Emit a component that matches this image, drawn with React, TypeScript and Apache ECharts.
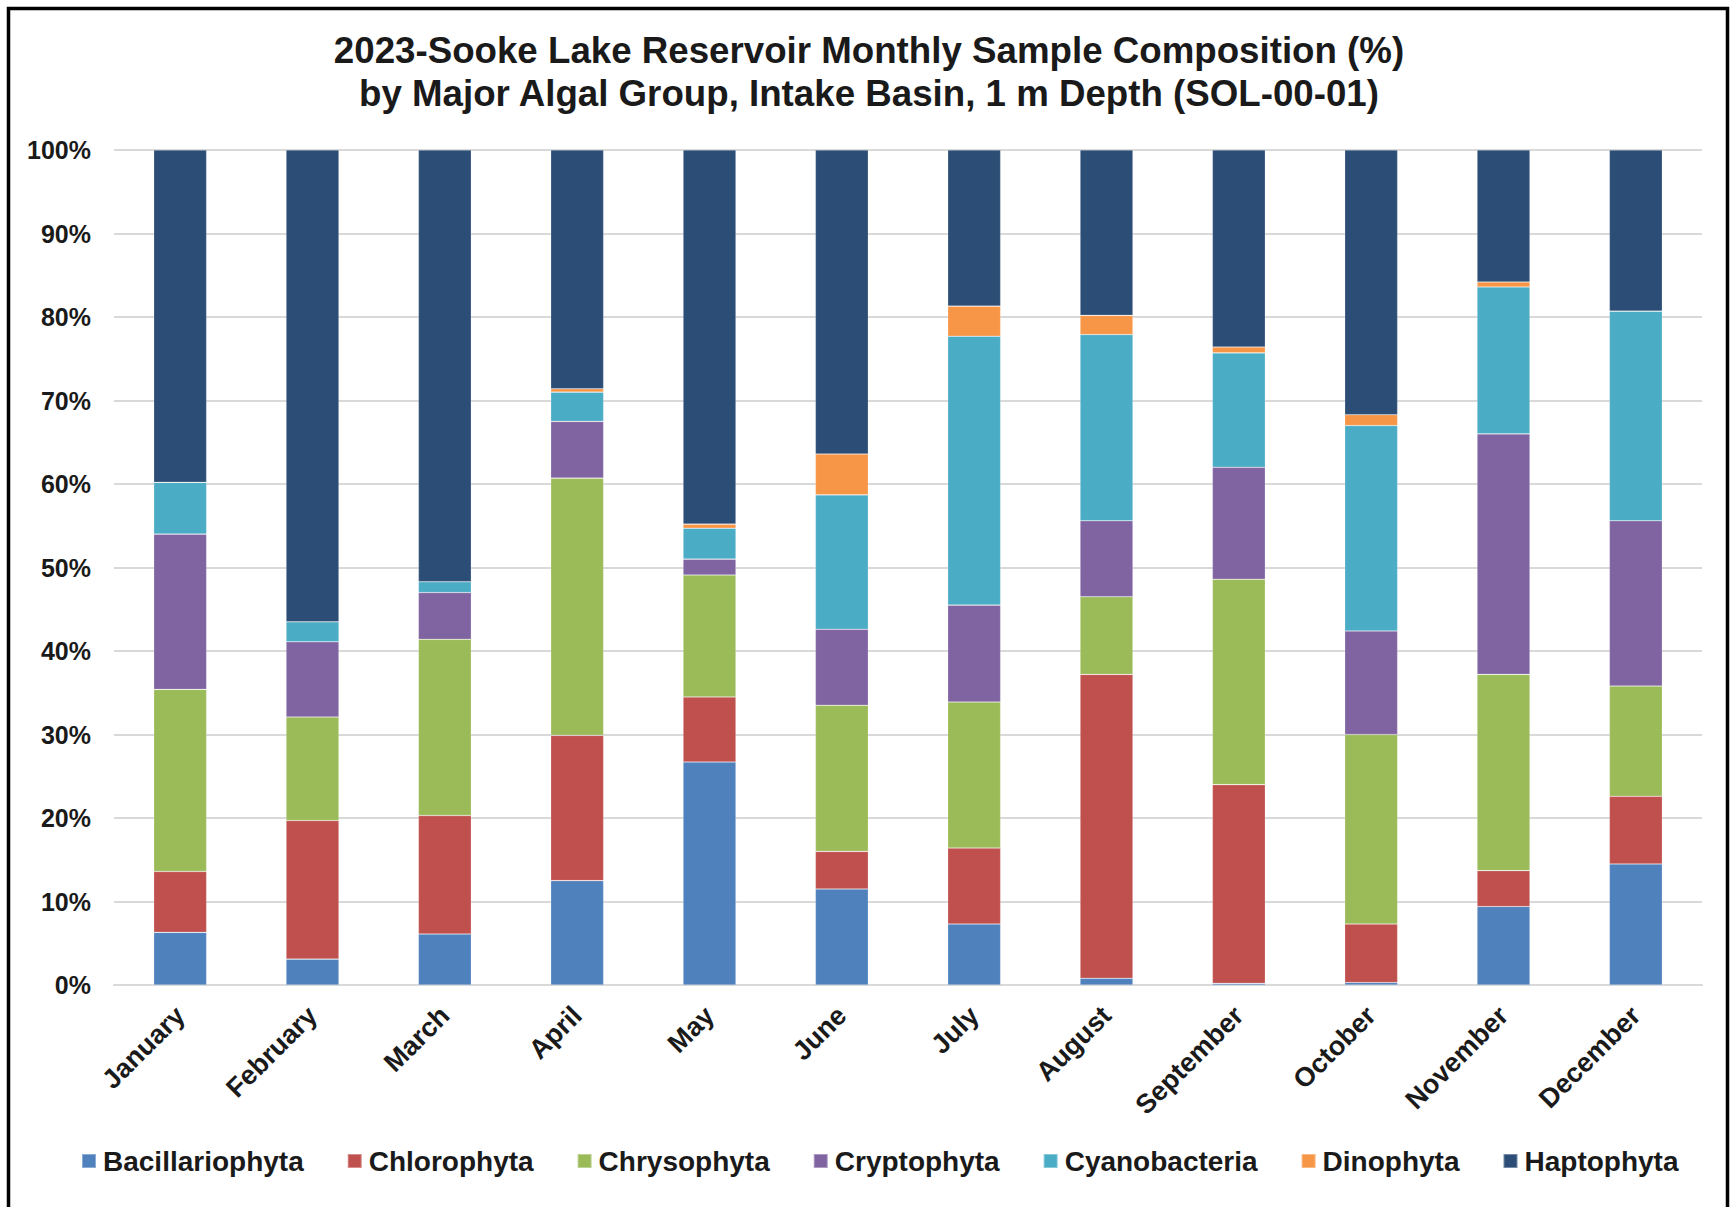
import React, { useEffect, useRef } from "react";
import * as echarts from "echarts";

const months = ["January", "February", "March", "April", "May", "June", "July", "August", "September", "October", "November", "December"];
const groups = ["Bacillariophyta", "Chlorophyta", "Chrysophyta", "Cryptophyta", "Cyanobacteria", "Dinophyta", "Haptophyta"];
const colors = ["#4F81BD", "#C0504D", "#9BBB59", "#8064A2", "#4BACC6", "#F79646", "#2C4D75"];
const titleLines = [
  "2023-Sooke Lake Reservoir Monthly Sample Composition (%)",
  "by Major Algal Group, Intake Basin, 1 m Depth (SOL-00-01)",
];

const bacillariophyta = [6.3, 3.1, 6.1, 12.5, 26.7, 11.5, 7.3, 0.8, 0.2, 0.3, 9.4, 14.5];
const chlorophyta = [7.3, 16.6, 14.2, 17.4, 7.8, 4.5, 9.1, 36.4, 23.8, 7.0, 4.3, 8.1];
const chrysophyta = [21.8, 12.4, 21.1, 30.8, 14.6, 17.5, 17.5, 9.3, 24.6, 22.7, 23.5, 13.2];
const cryptophyta = [18.6, 9.0, 5.6, 6.8, 1.9, 9.1, 11.6, 9.1, 13.4, 12.4, 28.8, 19.8];
const cyanobacteria = [6.2, 2.4, 1.3, 3.5, 3.7, 16.1, 32.2, 22.3, 13.7, 24.6, 17.6, 25.1];
const dinophyta = [0, 0, 0, 0.4, 0.5, 4.9, 3.6, 2.3, 0.7, 1.3, 0.6, 0];
const haptophyta = [39.8, 56.5, 51.7, 28.6, 44.8, 36.4, 18.7, 19.8, 23.6, 31.7, 15.8, 19.3];

const seriesValues = [bacillariophyta, chlorophyta, chrysophyta, cryptophyta, cyanobacteria, dinophyta, haptophyta];

const FONT = "'Liberation Sans', Arial, sans-serif";

export default function App() {
  const ref = useRef<HTMLDivElement>(null);
  useEffect(() => {
    if (!ref.current) return;
    const chart = echarts.init(ref.current, null, { renderer: "svg" });
    chart.setOption({
      animation: false,
      backgroundColor: "#ffffff",
      legend: {
        data: groups,
        left: 76,
        top: 1142,
        itemWidth: 14,
        itemHeight: 14,
        itemGap: 43,
        icon: "rect",
        textStyle: { fontFamily: FONT, fontSize: 28, fontWeight: "bold", color: "#1a1a1a", padding: [0, 0, 0, 2] },
      },
      grid: { left: 114, right: 28, top: 150, bottom: 222, containLabel: false },
      xAxis: {
        type: "category",
        data: months,
        axisTick: { show: false },
        axisLine: { lineStyle: { color: "#D9D9D9", width: 2 } },
        axisLabel: {
          rotate: 45,
          margin: 26,
          interval: 0,
          fontFamily: FONT,
          fontSize: 27,
          fontWeight: "bold",
          color: "#1a1a1a",
        },
      },
      yAxis: {
        type: "value",
        min: 0,
        max: 100,
        interval: 10,
        axisLine: { show: false },
        axisTick: { show: false },
        splitLine: { lineStyle: { color: "#D9D9D9", width: 2 } },
        axisLabel: {
          formatter: "{value}%",
          margin: 23,
          fontFamily: FONT,
          fontSize: 25,
          fontWeight: "bold",
          color: "#1a1a1a",
        },
      },
      series: groups.map((g, i) => ({
        name: g,
        type: "bar",
        stack: "total",
        barWidth: "40%",
        data: seriesValues[i],
        itemStyle: { color: colors[i], borderColor: "rgba(255,255,255,0.35)", borderWidth: 0.6 },
      })),
      graphic: [
        ...titleLines.map((t, i) => ({
          type: "text",
          x: 869,
          y: 50 + i * 43,
          silent: true,
          style: {
            text: t,
            fontFamily: FONT,
            fontSize: 36.7,
            fontWeight: "bold",
            fill: "#1a1a1a",
            textAlign: "center",
            textVerticalAlign: "middle",
          },
        })),
        {
          type: "rect",
          shape: { x: 8.5, y: 8.5, width: 1719, height: 1230 },
          style: { fill: "none", stroke: "#000000", lineWidth: 3.5 },
          silent: true,
          z: 100,
        },
      ],
    });
    return () => chart.dispose();
  }, []);
  return <div ref={ref} style={{ position: "absolute", left: 0, top: 0, width: 1730, height: 1207 }} />;
}
